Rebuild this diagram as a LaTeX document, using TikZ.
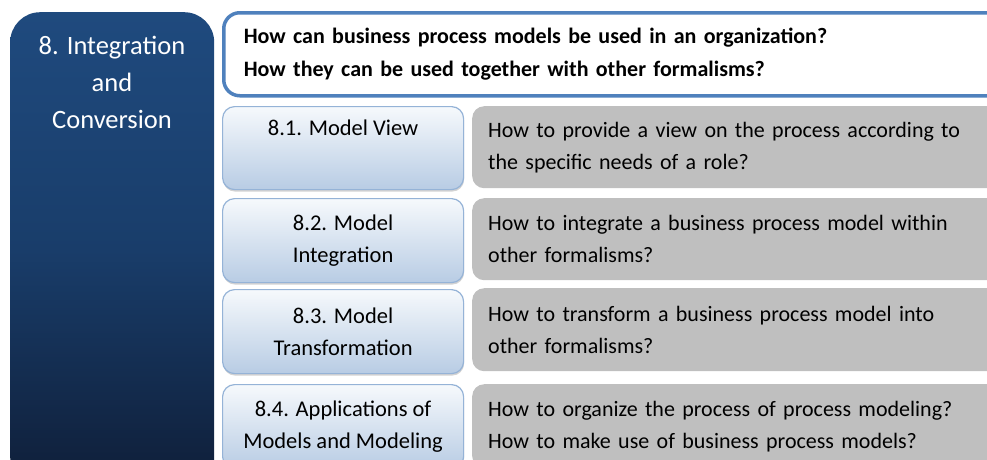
\documentclass[tikz,border=0pt]{standalone}
\usepackage{fontspec}
\setmainfont{Carlito}
\usetikzlibrary{shadows}
\definecolor{darkA}{HTML}{1F4A7E}
\definecolor{darkM}{HTML}{193D6A}
\definecolor{darkB}{HTML}{0F1E38}
\definecolor{lbTop}{HTML}{F6F9FC}
\definecolor{lbBot}{HTML}{B8CCE4}
\definecolor{lbLine}{HTML}{95B3D7}
\definecolor{qLine}{HTML}{4F81BD}
\definecolor{greyBox}{HTML}{BFBFBF}
\tikzset{
  subbox/.style={draw=lbLine, line width=1.2pt, top color=lbTop, bottom color=lbBot,
    rounded corners=12pt, anchor=north west, minimum width=241pt, inner sep=0pt,
    align=center, font=\fontsize{22.5}{32}\selectfont,
    drop shadow={shadow xshift=0.5pt, shadow yshift=-2pt, opacity=0.35, fill=gray}},
  greybox/.style={fill=greyBox, rounded corners=12pt, anchor=north west,
    minimum width=542pt, text width=510pt, inner xsep=16pt, inner ysep=0pt, align=left,
    font=\fontsize{22}{32}\selectfont},
}
\begin{document}
\begin{tikzpicture}[x=1pt,y=-1pt]
\useasboundingbox (0,0) rectangle (987,459);
\clip (0,0) rectangle (987,459);
% left dark box
\node[anchor=north west, minimum width=204pt, minimum height=475pt, rounded corners=30pt,
  top color=darkA, bottom color=darkB, middle color=darkM, inner sep=0pt] (main) at (10,12) {};
\node[text=white, align=center, font=\fontsize{26.5}{37}\selectfont] (title) at (112,82)
  {8. Integration\\and\\Conversion};
% top question box
\node[anchor=north west, draw=qLine, line width=3.5pt, fill=white, rounded corners=16pt,
  minimum width=800pt, minimum height=83pt, text width=760pt, align=left, inner xsep=20pt, inner ysep=0pt,
  font=\bfseries\fontsize{22}{33}\selectfont] (question) at (222,11)
  {How can business process models be used in an organization?\\How they can be used together with other formalisms?};
% sub-boxes
\node[subbox, minimum height=83pt] (s1) at (222,106) {8.1. Model View\\\strut};
\node[subbox, minimum height=84pt] (s2) at (222,198) {8.2. Model\\Integration};
\node[subbox, minimum height=84pt] (s3) at (222,289) {8.3. Model\\Transformation};
\node[subbox, minimum height=84pt] (s4) at (222,384) {8.4. Applications of\\Models and Modeling};
% grey boxes
\node[greybox, minimum height=82pt] (g1) at (472,106) {How to provide a view on the process according to\\the specific needs of a role?};
\node[greybox, minimum height=82pt] (g2) at (472,198) {How to integrate a business process model within\\other formalisms?};
\node[greybox, minimum height=83pt] (g3) at (472,288) {How to transform a business process model into\\other formalisms?};
\node[greybox, minimum height=84pt] (g4) at (472,384) {How to organize the process of process modeling?\\How to make use of business process models?};
\end{tikzpicture}
\end{document}
